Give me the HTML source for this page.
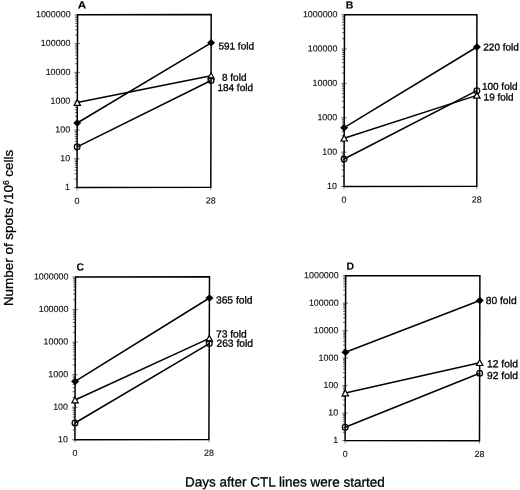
<!DOCTYPE html>
<html><head><meta charset="utf-8"><style>
html,body{margin:0;padding:0;background:#fff;}
svg{display:block;filter:grayscale(1);}
text{font-family:"Liberation Sans", sans-serif;fill:#000;stroke:#000;stroke-width:0.3px;}
text.t{stroke-width:0.12px;fill:#111;stroke:#111;}
text.L{stroke-width:0.1px;}
</style></head><body>
<svg width="520" height="490" viewBox="0 0 520 490">
<rect width="520" height="490" fill="#fff"/>
<line x1="74.63" y1="178.93" x2="77.03" y2="178.93" stroke="#555" stroke-width="0.9"/>
<line x1="74.65" y1="173.86" x2="77.05" y2="173.86" stroke="#555" stroke-width="0.9"/>
<line x1="74.66" y1="170.26" x2="77.06" y2="170.26" stroke="#555" stroke-width="0.9"/>
<line x1="74.67" y1="167.47" x2="77.07" y2="167.47" stroke="#555" stroke-width="0.9"/>
<line x1="74.68" y1="165.19" x2="77.08" y2="165.19" stroke="#555" stroke-width="0.9"/>
<line x1="74.68" y1="163.26" x2="77.08" y2="163.26" stroke="#555" stroke-width="0.9"/>
<line x1="74.69" y1="161.59" x2="77.09" y2="161.59" stroke="#555" stroke-width="0.9"/>
<line x1="74.70" y1="160.12" x2="77.10" y2="160.12" stroke="#555" stroke-width="0.9"/>
<line x1="74.73" y1="150.13" x2="77.13" y2="150.13" stroke="#555" stroke-width="0.9"/>
<line x1="74.75" y1="145.06" x2="77.15" y2="145.06" stroke="#555" stroke-width="0.9"/>
<line x1="74.76" y1="141.46" x2="77.16" y2="141.46" stroke="#555" stroke-width="0.9"/>
<line x1="74.77" y1="138.67" x2="77.17" y2="138.67" stroke="#555" stroke-width="0.9"/>
<line x1="74.78" y1="136.39" x2="77.18" y2="136.39" stroke="#555" stroke-width="0.9"/>
<line x1="74.78" y1="134.46" x2="77.18" y2="134.46" stroke="#555" stroke-width="0.9"/>
<line x1="74.79" y1="132.79" x2="77.19" y2="132.79" stroke="#555" stroke-width="0.9"/>
<line x1="74.80" y1="131.32" x2="77.20" y2="131.32" stroke="#555" stroke-width="0.9"/>
<line x1="74.83" y1="121.33" x2="77.23" y2="121.33" stroke="#555" stroke-width="0.9"/>
<line x1="74.85" y1="116.26" x2="77.25" y2="116.26" stroke="#555" stroke-width="0.9"/>
<line x1="74.86" y1="112.66" x2="77.26" y2="112.66" stroke="#555" stroke-width="0.9"/>
<line x1="74.87" y1="109.87" x2="77.27" y2="109.87" stroke="#555" stroke-width="0.9"/>
<line x1="74.88" y1="107.59" x2="77.28" y2="107.59" stroke="#555" stroke-width="0.9"/>
<line x1="74.88" y1="105.66" x2="77.28" y2="105.66" stroke="#555" stroke-width="0.9"/>
<line x1="74.89" y1="103.99" x2="77.29" y2="103.99" stroke="#555" stroke-width="0.9"/>
<line x1="74.90" y1="102.52" x2="77.30" y2="102.52" stroke="#555" stroke-width="0.9"/>
<line x1="74.93" y1="92.53" x2="77.33" y2="92.53" stroke="#555" stroke-width="0.9"/>
<line x1="74.95" y1="87.46" x2="77.35" y2="87.46" stroke="#555" stroke-width="0.9"/>
<line x1="74.96" y1="83.86" x2="77.36" y2="83.86" stroke="#555" stroke-width="0.9"/>
<line x1="74.97" y1="81.07" x2="77.37" y2="81.07" stroke="#555" stroke-width="0.9"/>
<line x1="74.98" y1="78.79" x2="77.38" y2="78.79" stroke="#555" stroke-width="0.9"/>
<line x1="74.98" y1="76.86" x2="77.38" y2="76.86" stroke="#555" stroke-width="0.9"/>
<line x1="74.99" y1="75.19" x2="77.39" y2="75.19" stroke="#555" stroke-width="0.9"/>
<line x1="75.00" y1="73.72" x2="77.40" y2="73.72" stroke="#555" stroke-width="0.9"/>
<line x1="75.03" y1="63.73" x2="77.43" y2="63.73" stroke="#555" stroke-width="0.9"/>
<line x1="75.05" y1="58.66" x2="77.45" y2="58.66" stroke="#555" stroke-width="0.9"/>
<line x1="75.06" y1="55.06" x2="77.46" y2="55.06" stroke="#555" stroke-width="0.9"/>
<line x1="75.07" y1="52.27" x2="77.47" y2="52.27" stroke="#555" stroke-width="0.9"/>
<line x1="75.08" y1="49.99" x2="77.48" y2="49.99" stroke="#555" stroke-width="0.9"/>
<line x1="75.08" y1="48.06" x2="77.48" y2="48.06" stroke="#555" stroke-width="0.9"/>
<line x1="75.09" y1="46.39" x2="77.49" y2="46.39" stroke="#555" stroke-width="0.9"/>
<line x1="75.10" y1="44.92" x2="77.50" y2="44.92" stroke="#555" stroke-width="0.9"/>
<line x1="75.13" y1="34.93" x2="77.53" y2="34.93" stroke="#555" stroke-width="0.9"/>
<line x1="75.15" y1="29.86" x2="77.55" y2="29.86" stroke="#555" stroke-width="0.9"/>
<line x1="75.16" y1="26.26" x2="77.56" y2="26.26" stroke="#555" stroke-width="0.9"/>
<line x1="75.17" y1="23.47" x2="77.57" y2="23.47" stroke="#555" stroke-width="0.9"/>
<line x1="75.18" y1="21.19" x2="77.58" y2="21.19" stroke="#555" stroke-width="0.9"/>
<line x1="75.18" y1="19.26" x2="77.58" y2="19.26" stroke="#555" stroke-width="0.9"/>
<line x1="75.19" y1="17.59" x2="77.59" y2="17.59" stroke="#555" stroke-width="0.9"/>
<line x1="75.20" y1="16.12" x2="77.60" y2="16.12" stroke="#555" stroke-width="0.9"/>
<line x1="74.00" y1="187.60" x2="79.50" y2="187.60" stroke="#666" stroke-width="0.9"/>
<text class="t" transform="translate(70.00,190.10) skewY(0.05)" font-size="8.9" text-anchor="end">1</text>
<line x1="74.10" y1="158.80" x2="79.60" y2="158.80" stroke="#666" stroke-width="0.9"/>
<text class="t" transform="translate(70.10,161.30) skewY(0.05)" font-size="8.9" text-anchor="end">10</text>
<line x1="74.20" y1="130.00" x2="79.70" y2="130.00" stroke="#666" stroke-width="0.9"/>
<text class="t" transform="translate(70.20,132.50) skewY(0.05)" font-size="8.9" text-anchor="end">100</text>
<line x1="74.30" y1="101.20" x2="79.80" y2="101.20" stroke="#666" stroke-width="0.9"/>
<text class="t" transform="translate(70.30,103.70) skewY(0.05)" font-size="8.9" text-anchor="end">1000</text>
<line x1="74.40" y1="72.40" x2="79.90" y2="72.40" stroke="#666" stroke-width="0.9"/>
<text class="t" transform="translate(70.40,74.90) skewY(0.05)" font-size="8.9" text-anchor="end">10000</text>
<line x1="74.50" y1="43.60" x2="80.00" y2="43.60" stroke="#666" stroke-width="0.9"/>
<text class="t" transform="translate(70.50,46.10) skewY(0.05)" font-size="8.9" text-anchor="end">100000</text>
<line x1="74.60" y1="14.80" x2="80.10" y2="14.80" stroke="#666" stroke-width="0.9"/>
<text class="t" transform="translate(70.60,17.30) skewY(0.05)" font-size="8.9" text-anchor="end">1000000</text>
<line x1="77.00" y1="187.60" x2="77.00" y2="190.60" stroke="#888" stroke-width="0.9"/>
<line x1="210.80" y1="187.30" x2="210.80" y2="190.30" stroke="#888" stroke-width="0.9"/>
<text class="t" transform="translate(77.00,203.90) skewY(0.05)" font-size="8.9" text-anchor="middle">0</text>
<text class="t" transform="translate(210.80,203.60) skewY(0.05)" font-size="8.9" text-anchor="middle">28</text>
<path d="M77.60 14.80 L211.20 14.40 L210.80 187.30 L77.00 187.60Z" fill="none" stroke="#000" stroke-width="1.5"/>
<text class="L" transform="translate(77.70,8.60) skewY(0.05) scale(1.12,1)" font-size="10.5" font-weight="bold">A</text>
<line x1="77.22" y1="123.00" x2="211.13" y2="42.80" stroke="#000" stroke-width="1.5"/>
<line x1="77.30" y1="102.60" x2="211.06" y2="75.80" stroke="#000" stroke-width="1.5"/>
<line x1="77.14" y1="146.80" x2="211.05" y2="80.50" stroke="#000" stroke-width="1.5"/>
<path d="M77.22 119.20 L81.22 123.00 L77.22 126.80 L73.22 123.00Z" fill="#000"/>
<path d="M211.13 39.00 L215.13 42.80 L211.13 46.60 L207.13 42.80Z" fill="#000"/>
<path d="M77.30 99.60 L80.50 105.40 L74.10 105.40Z" fill="#fff" stroke="#000" stroke-width="1.2" stroke-linejoin="miter"/>
<path d="M211.06 72.80 L214.26 78.60 L207.86 78.60Z" fill="#fff" stroke="#000" stroke-width="1.2" stroke-linejoin="miter"/>
<circle cx="77.14" cy="146.80" r="2.85" fill="none" stroke="#000" stroke-width="1.3"/>
<circle cx="211.05" cy="80.50" r="2.85" fill="none" stroke="#000" stroke-width="1.3"/>
<text transform="translate(218.40,49.50) skewY(0.05)" font-size="10">591 fold</text>
<text transform="translate(222.00,80.80) skewY(0.05)" font-size="10">8 fold</text>
<text transform="translate(217.40,90.90) skewY(0.05)" font-size="10">184 fold</text>
<line x1="341.63" y1="176.16" x2="344.03" y2="176.16" stroke="#555" stroke-width="0.9"/>
<line x1="341.65" y1="170.11" x2="344.05" y2="170.11" stroke="#555" stroke-width="0.9"/>
<line x1="341.66" y1="165.81" x2="344.06" y2="165.81" stroke="#555" stroke-width="0.9"/>
<line x1="341.67" y1="162.48" x2="344.07" y2="162.48" stroke="#555" stroke-width="0.9"/>
<line x1="341.68" y1="159.76" x2="344.08" y2="159.76" stroke="#555" stroke-width="0.9"/>
<line x1="341.68" y1="157.46" x2="344.08" y2="157.46" stroke="#555" stroke-width="0.9"/>
<line x1="341.69" y1="155.47" x2="344.09" y2="155.47" stroke="#555" stroke-width="0.9"/>
<line x1="341.70" y1="153.71" x2="344.10" y2="153.71" stroke="#555" stroke-width="0.9"/>
<line x1="341.73" y1="141.80" x2="344.13" y2="141.80" stroke="#555" stroke-width="0.9"/>
<line x1="341.75" y1="135.75" x2="344.15" y2="135.75" stroke="#555" stroke-width="0.9"/>
<line x1="341.76" y1="131.45" x2="344.16" y2="131.45" stroke="#555" stroke-width="0.9"/>
<line x1="341.77" y1="128.12" x2="344.17" y2="128.12" stroke="#555" stroke-width="0.9"/>
<line x1="341.78" y1="125.40" x2="344.18" y2="125.40" stroke="#555" stroke-width="0.9"/>
<line x1="341.78" y1="123.10" x2="344.18" y2="123.10" stroke="#555" stroke-width="0.9"/>
<line x1="341.79" y1="121.11" x2="344.19" y2="121.11" stroke="#555" stroke-width="0.9"/>
<line x1="341.80" y1="119.35" x2="344.20" y2="119.35" stroke="#555" stroke-width="0.9"/>
<line x1="341.83" y1="107.44" x2="344.23" y2="107.44" stroke="#555" stroke-width="0.9"/>
<line x1="341.85" y1="101.39" x2="344.25" y2="101.39" stroke="#555" stroke-width="0.9"/>
<line x1="341.86" y1="97.09" x2="344.26" y2="97.09" stroke="#555" stroke-width="0.9"/>
<line x1="341.87" y1="93.76" x2="344.27" y2="93.76" stroke="#555" stroke-width="0.9"/>
<line x1="341.88" y1="91.04" x2="344.28" y2="91.04" stroke="#555" stroke-width="0.9"/>
<line x1="341.88" y1="88.74" x2="344.28" y2="88.74" stroke="#555" stroke-width="0.9"/>
<line x1="341.89" y1="86.75" x2="344.29" y2="86.75" stroke="#555" stroke-width="0.9"/>
<line x1="341.90" y1="84.99" x2="344.30" y2="84.99" stroke="#555" stroke-width="0.9"/>
<line x1="341.93" y1="73.08" x2="344.33" y2="73.08" stroke="#555" stroke-width="0.9"/>
<line x1="341.95" y1="67.03" x2="344.35" y2="67.03" stroke="#555" stroke-width="0.9"/>
<line x1="341.96" y1="62.73" x2="344.36" y2="62.73" stroke="#555" stroke-width="0.9"/>
<line x1="341.97" y1="59.40" x2="344.37" y2="59.40" stroke="#555" stroke-width="0.9"/>
<line x1="341.98" y1="56.68" x2="344.38" y2="56.68" stroke="#555" stroke-width="0.9"/>
<line x1="341.98" y1="54.38" x2="344.38" y2="54.38" stroke="#555" stroke-width="0.9"/>
<line x1="341.99" y1="52.39" x2="344.39" y2="52.39" stroke="#555" stroke-width="0.9"/>
<line x1="342.00" y1="50.63" x2="344.40" y2="50.63" stroke="#555" stroke-width="0.9"/>
<line x1="342.03" y1="38.72" x2="344.43" y2="38.72" stroke="#555" stroke-width="0.9"/>
<line x1="342.05" y1="32.67" x2="344.45" y2="32.67" stroke="#555" stroke-width="0.9"/>
<line x1="342.06" y1="28.37" x2="344.46" y2="28.37" stroke="#555" stroke-width="0.9"/>
<line x1="342.07" y1="25.04" x2="344.47" y2="25.04" stroke="#555" stroke-width="0.9"/>
<line x1="342.08" y1="22.32" x2="344.48" y2="22.32" stroke="#555" stroke-width="0.9"/>
<line x1="342.08" y1="20.02" x2="344.48" y2="20.02" stroke="#555" stroke-width="0.9"/>
<line x1="342.09" y1="18.03" x2="344.49" y2="18.03" stroke="#555" stroke-width="0.9"/>
<line x1="342.10" y1="16.27" x2="344.50" y2="16.27" stroke="#555" stroke-width="0.9"/>
<line x1="341.00" y1="186.50" x2="346.50" y2="186.50" stroke="#666" stroke-width="0.9"/>
<text class="t" transform="translate(337.00,189.00) skewY(0.05)" font-size="8.9" text-anchor="end">10</text>
<line x1="341.10" y1="152.14" x2="346.60" y2="152.14" stroke="#666" stroke-width="0.9"/>
<text class="t" transform="translate(337.10,154.64) skewY(0.05)" font-size="8.9" text-anchor="end">100</text>
<line x1="341.20" y1="117.78" x2="346.70" y2="117.78" stroke="#666" stroke-width="0.9"/>
<text class="t" transform="translate(337.20,120.28) skewY(0.05)" font-size="8.9" text-anchor="end">1000</text>
<line x1="341.30" y1="83.42" x2="346.80" y2="83.42" stroke="#666" stroke-width="0.9"/>
<text class="t" transform="translate(337.30,85.92) skewY(0.05)" font-size="8.9" text-anchor="end">10000</text>
<line x1="341.40" y1="49.06" x2="346.90" y2="49.06" stroke="#666" stroke-width="0.9"/>
<text class="t" transform="translate(337.40,51.56) skewY(0.05)" font-size="8.9" text-anchor="end">100000</text>
<line x1="341.50" y1="14.70" x2="347.00" y2="14.70" stroke="#666" stroke-width="0.9"/>
<text class="t" transform="translate(337.50,17.20) skewY(0.05)" font-size="8.9" text-anchor="end">1000000</text>
<line x1="344.00" y1="186.50" x2="344.00" y2="189.50" stroke="#888" stroke-width="0.9"/>
<line x1="476.80" y1="186.30" x2="476.80" y2="189.30" stroke="#888" stroke-width="0.9"/>
<text class="t" transform="translate(344.00,202.80) skewY(0.05)" font-size="8.9" text-anchor="middle">0</text>
<text class="t" transform="translate(476.80,202.60) skewY(0.05)" font-size="8.9" text-anchor="middle">28</text>
<path d="M344.50 14.70 L476.90 14.70 L476.80 186.30 L344.00 186.50Z" fill="none" stroke="#000" stroke-width="1.5"/>
<text class="L" transform="translate(345.70,8.50) skewY(0.05)" font-size="10.5" font-weight="bold">B</text>
<line x1="344.17" y1="127.70" x2="476.88" y2="47.00" stroke="#000" stroke-width="1.5"/>
<line x1="344.14" y1="138.20" x2="476.85" y2="95.40" stroke="#000" stroke-width="1.5"/>
<line x1="344.08" y1="159.00" x2="476.86" y2="90.70" stroke="#000" stroke-width="1.5"/>
<path d="M344.17 123.90 L348.17 127.70 L344.17 131.50 L340.17 127.70Z" fill="#000"/>
<path d="M476.88 43.20 L480.88 47.00 L476.88 50.80 L472.88 47.00Z" fill="#000"/>
<path d="M344.14 135.20 L347.34 141.00 L340.94 141.00Z" fill="#fff" stroke="#000" stroke-width="1.2" stroke-linejoin="miter"/>
<path d="M476.85 92.40 L480.05 98.20 L473.65 98.20Z" fill="#fff" stroke="#000" stroke-width="1.2" stroke-linejoin="miter"/>
<circle cx="344.08" cy="159.00" r="2.85" fill="none" stroke="#000" stroke-width="1.3"/>
<circle cx="476.86" cy="90.70" r="2.85" fill="none" stroke="#000" stroke-width="1.3"/>
<text transform="translate(483.30,50.50) skewY(0.05)" font-size="10">220 fold</text>
<text transform="translate(481.90,89.80) skewY(0.05)" font-size="10">100 fold</text>
<text transform="translate(483.60,100.50) skewY(0.05)" font-size="10">19 fold</text>
<line x1="72.54" y1="430.00" x2="74.94" y2="430.00" stroke="#555" stroke-width="0.9"/>
<line x1="72.56" y1="424.26" x2="74.96" y2="424.26" stroke="#555" stroke-width="0.9"/>
<line x1="72.57" y1="420.20" x2="74.97" y2="420.20" stroke="#555" stroke-width="0.9"/>
<line x1="72.58" y1="417.04" x2="74.98" y2="417.04" stroke="#555" stroke-width="0.9"/>
<line x1="72.59" y1="414.46" x2="74.99" y2="414.46" stroke="#555" stroke-width="0.9"/>
<line x1="72.60" y1="412.28" x2="75.00" y2="412.28" stroke="#555" stroke-width="0.9"/>
<line x1="72.61" y1="410.40" x2="75.01" y2="410.40" stroke="#555" stroke-width="0.9"/>
<line x1="72.61" y1="408.73" x2="75.01" y2="408.73" stroke="#555" stroke-width="0.9"/>
<line x1="72.66" y1="397.44" x2="75.06" y2="397.44" stroke="#555" stroke-width="0.9"/>
<line x1="72.68" y1="391.70" x2="75.08" y2="391.70" stroke="#555" stroke-width="0.9"/>
<line x1="72.69" y1="387.64" x2="75.09" y2="387.64" stroke="#555" stroke-width="0.9"/>
<line x1="72.70" y1="384.48" x2="75.10" y2="384.48" stroke="#555" stroke-width="0.9"/>
<line x1="72.71" y1="381.90" x2="75.11" y2="381.90" stroke="#555" stroke-width="0.9"/>
<line x1="72.72" y1="379.72" x2="75.12" y2="379.72" stroke="#555" stroke-width="0.9"/>
<line x1="72.73" y1="377.84" x2="75.13" y2="377.84" stroke="#555" stroke-width="0.9"/>
<line x1="72.73" y1="376.17" x2="75.13" y2="376.17" stroke="#555" stroke-width="0.9"/>
<line x1="72.78" y1="364.88" x2="75.18" y2="364.88" stroke="#555" stroke-width="0.9"/>
<line x1="72.80" y1="359.14" x2="75.20" y2="359.14" stroke="#555" stroke-width="0.9"/>
<line x1="72.81" y1="355.08" x2="75.21" y2="355.08" stroke="#555" stroke-width="0.9"/>
<line x1="72.82" y1="351.92" x2="75.22" y2="351.92" stroke="#555" stroke-width="0.9"/>
<line x1="72.83" y1="349.34" x2="75.23" y2="349.34" stroke="#555" stroke-width="0.9"/>
<line x1="72.84" y1="347.16" x2="75.24" y2="347.16" stroke="#555" stroke-width="0.9"/>
<line x1="72.85" y1="345.28" x2="75.25" y2="345.28" stroke="#555" stroke-width="0.9"/>
<line x1="72.85" y1="343.61" x2="75.25" y2="343.61" stroke="#555" stroke-width="0.9"/>
<line x1="72.90" y1="332.32" x2="75.30" y2="332.32" stroke="#555" stroke-width="0.9"/>
<line x1="72.92" y1="326.58" x2="75.32" y2="326.58" stroke="#555" stroke-width="0.9"/>
<line x1="72.93" y1="322.52" x2="75.33" y2="322.52" stroke="#555" stroke-width="0.9"/>
<line x1="72.94" y1="319.36" x2="75.34" y2="319.36" stroke="#555" stroke-width="0.9"/>
<line x1="72.95" y1="316.78" x2="75.35" y2="316.78" stroke="#555" stroke-width="0.9"/>
<line x1="72.96" y1="314.60" x2="75.36" y2="314.60" stroke="#555" stroke-width="0.9"/>
<line x1="72.97" y1="312.72" x2="75.37" y2="312.72" stroke="#555" stroke-width="0.9"/>
<line x1="72.97" y1="311.05" x2="75.37" y2="311.05" stroke="#555" stroke-width="0.9"/>
<line x1="73.02" y1="299.76" x2="75.42" y2="299.76" stroke="#555" stroke-width="0.9"/>
<line x1="73.04" y1="294.02" x2="75.44" y2="294.02" stroke="#555" stroke-width="0.9"/>
<line x1="73.05" y1="289.96" x2="75.45" y2="289.96" stroke="#555" stroke-width="0.9"/>
<line x1="73.06" y1="286.80" x2="75.46" y2="286.80" stroke="#555" stroke-width="0.9"/>
<line x1="73.07" y1="284.22" x2="75.47" y2="284.22" stroke="#555" stroke-width="0.9"/>
<line x1="73.08" y1="282.04" x2="75.48" y2="282.04" stroke="#555" stroke-width="0.9"/>
<line x1="73.09" y1="280.16" x2="75.49" y2="280.16" stroke="#555" stroke-width="0.9"/>
<line x1="73.09" y1="278.49" x2="75.49" y2="278.49" stroke="#555" stroke-width="0.9"/>
<line x1="71.90" y1="439.80" x2="77.40" y2="439.80" stroke="#666" stroke-width="0.9"/>
<text class="t" transform="translate(67.90,442.30) skewY(0.05)" font-size="8.9" text-anchor="end">10</text>
<line x1="72.02" y1="407.24" x2="77.52" y2="407.24" stroke="#666" stroke-width="0.9"/>
<text class="t" transform="translate(68.02,409.74) skewY(0.05)" font-size="8.9" text-anchor="end">100</text>
<line x1="72.14" y1="374.68" x2="77.64" y2="374.68" stroke="#666" stroke-width="0.9"/>
<text class="t" transform="translate(68.14,377.18) skewY(0.05)" font-size="8.9" text-anchor="end">1000</text>
<line x1="72.26" y1="342.12" x2="77.76" y2="342.12" stroke="#666" stroke-width="0.9"/>
<text class="t" transform="translate(68.26,344.62) skewY(0.05)" font-size="8.9" text-anchor="end">10000</text>
<line x1="72.38" y1="309.56" x2="77.88" y2="309.56" stroke="#666" stroke-width="0.9"/>
<text class="t" transform="translate(68.38,312.06) skewY(0.05)" font-size="8.9" text-anchor="end">100000</text>
<line x1="72.50" y1="277.00" x2="78.00" y2="277.00" stroke="#666" stroke-width="0.9"/>
<text class="t" transform="translate(68.50,279.50) skewY(0.05)" font-size="8.9" text-anchor="end">1000000</text>
<line x1="74.90" y1="439.80" x2="74.90" y2="442.80" stroke="#888" stroke-width="0.9"/>
<line x1="208.90" y1="439.50" x2="208.90" y2="442.50" stroke="#888" stroke-width="0.9"/>
<text class="t" transform="translate(74.90,456.10) skewY(0.05)" font-size="8.9" text-anchor="middle">0</text>
<text class="t" transform="translate(208.90,455.80) skewY(0.05)" font-size="8.9" text-anchor="middle">28</text>
<path d="M75.50 277.00 L209.50 276.80 L208.90 439.50 L74.90 439.80Z" fill="none" stroke="#000" stroke-width="1.5"/>
<text class="L" transform="translate(76.40,270.60) skewY(0.05)" font-size="10.5" font-weight="bold">C</text>
<line x1="75.12" y1="381.40" x2="209.42" y2="298.00" stroke="#000" stroke-width="1.5"/>
<line x1="75.05" y1="400.00" x2="209.27" y2="338.40" stroke="#000" stroke-width="1.5"/>
<line x1="74.96" y1="423.00" x2="209.25" y2="343.60" stroke="#000" stroke-width="1.5"/>
<path d="M75.12 377.60 L79.12 381.40 L75.12 385.20 L71.12 381.40Z" fill="#000"/>
<path d="M209.42 294.20 L213.42 298.00 L209.42 301.80 L205.42 298.00Z" fill="#000"/>
<path d="M75.05 397.00 L78.25 402.80 L71.85 402.80Z" fill="#fff" stroke="#000" stroke-width="1.2" stroke-linejoin="miter"/>
<path d="M209.27 335.40 L212.47 341.20 L206.07 341.20Z" fill="#fff" stroke="#000" stroke-width="1.2" stroke-linejoin="miter"/>
<circle cx="74.96" cy="423.00" r="2.85" fill="none" stroke="#000" stroke-width="1.3"/>
<circle cx="209.25" cy="343.60" r="2.85" fill="none" stroke="#000" stroke-width="1.3"/>
<text transform="translate(215.90,303.40) skewY(0.05)" font-size="10.3">365 fold</text>
<text transform="translate(215.90,337.40) skewY(0.05)" font-size="10.3">73 fold</text>
<text transform="translate(216.40,346.70) skewY(0.05)" font-size="10.3">263 fold</text>
<line x1="342.73" y1="432.33" x2="345.13" y2="432.33" stroke="#555" stroke-width="0.9"/>
<line x1="342.75" y1="427.49" x2="345.15" y2="427.49" stroke="#555" stroke-width="0.9"/>
<line x1="342.76" y1="424.05" x2="345.16" y2="424.05" stroke="#555" stroke-width="0.9"/>
<line x1="342.77" y1="421.39" x2="345.17" y2="421.39" stroke="#555" stroke-width="0.9"/>
<line x1="342.78" y1="419.21" x2="345.18" y2="419.21" stroke="#555" stroke-width="0.9"/>
<line x1="342.78" y1="417.37" x2="345.18" y2="417.37" stroke="#555" stroke-width="0.9"/>
<line x1="342.79" y1="415.78" x2="345.19" y2="415.78" stroke="#555" stroke-width="0.9"/>
<line x1="342.80" y1="414.37" x2="345.20" y2="414.37" stroke="#555" stroke-width="0.9"/>
<line x1="342.83" y1="404.84" x2="345.23" y2="404.84" stroke="#555" stroke-width="0.9"/>
<line x1="342.85" y1="400.00" x2="345.25" y2="400.00" stroke="#555" stroke-width="0.9"/>
<line x1="342.86" y1="396.57" x2="345.26" y2="396.57" stroke="#555" stroke-width="0.9"/>
<line x1="342.87" y1="393.91" x2="345.27" y2="393.91" stroke="#555" stroke-width="0.9"/>
<line x1="342.88" y1="391.73" x2="345.28" y2="391.73" stroke="#555" stroke-width="0.9"/>
<line x1="342.88" y1="389.89" x2="345.28" y2="389.89" stroke="#555" stroke-width="0.9"/>
<line x1="342.89" y1="388.30" x2="345.29" y2="388.30" stroke="#555" stroke-width="0.9"/>
<line x1="342.90" y1="386.89" x2="345.30" y2="386.89" stroke="#555" stroke-width="0.9"/>
<line x1="342.93" y1="377.36" x2="345.33" y2="377.36" stroke="#555" stroke-width="0.9"/>
<line x1="342.95" y1="372.52" x2="345.35" y2="372.52" stroke="#555" stroke-width="0.9"/>
<line x1="342.96" y1="369.09" x2="345.36" y2="369.09" stroke="#555" stroke-width="0.9"/>
<line x1="342.97" y1="366.42" x2="345.37" y2="366.42" stroke="#555" stroke-width="0.9"/>
<line x1="342.98" y1="364.25" x2="345.38" y2="364.25" stroke="#555" stroke-width="0.9"/>
<line x1="342.98" y1="362.41" x2="345.38" y2="362.41" stroke="#555" stroke-width="0.9"/>
<line x1="342.99" y1="360.81" x2="345.39" y2="360.81" stroke="#555" stroke-width="0.9"/>
<line x1="343.00" y1="359.41" x2="345.40" y2="359.41" stroke="#555" stroke-width="0.9"/>
<line x1="343.03" y1="349.88" x2="345.43" y2="349.88" stroke="#555" stroke-width="0.9"/>
<line x1="343.05" y1="345.04" x2="345.45" y2="345.04" stroke="#555" stroke-width="0.9"/>
<line x1="343.06" y1="341.60" x2="345.46" y2="341.60" stroke="#555" stroke-width="0.9"/>
<line x1="343.07" y1="338.94" x2="345.47" y2="338.94" stroke="#555" stroke-width="0.9"/>
<line x1="343.08" y1="336.76" x2="345.48" y2="336.76" stroke="#555" stroke-width="0.9"/>
<line x1="343.08" y1="334.92" x2="345.48" y2="334.92" stroke="#555" stroke-width="0.9"/>
<line x1="343.09" y1="333.33" x2="345.49" y2="333.33" stroke="#555" stroke-width="0.9"/>
<line x1="343.10" y1="331.92" x2="345.50" y2="331.92" stroke="#555" stroke-width="0.9"/>
<line x1="343.13" y1="322.39" x2="345.53" y2="322.39" stroke="#555" stroke-width="0.9"/>
<line x1="343.15" y1="317.55" x2="345.55" y2="317.55" stroke="#555" stroke-width="0.9"/>
<line x1="343.16" y1="314.12" x2="345.56" y2="314.12" stroke="#555" stroke-width="0.9"/>
<line x1="343.17" y1="311.46" x2="345.57" y2="311.46" stroke="#555" stroke-width="0.9"/>
<line x1="343.18" y1="309.28" x2="345.58" y2="309.28" stroke="#555" stroke-width="0.9"/>
<line x1="343.18" y1="307.44" x2="345.58" y2="307.44" stroke="#555" stroke-width="0.9"/>
<line x1="343.19" y1="305.85" x2="345.59" y2="305.85" stroke="#555" stroke-width="0.9"/>
<line x1="343.20" y1="304.44" x2="345.60" y2="304.44" stroke="#555" stroke-width="0.9"/>
<line x1="343.23" y1="294.91" x2="345.63" y2="294.91" stroke="#555" stroke-width="0.9"/>
<line x1="343.25" y1="290.07" x2="345.65" y2="290.07" stroke="#555" stroke-width="0.9"/>
<line x1="343.26" y1="286.64" x2="345.66" y2="286.64" stroke="#555" stroke-width="0.9"/>
<line x1="343.27" y1="283.97" x2="345.67" y2="283.97" stroke="#555" stroke-width="0.9"/>
<line x1="343.28" y1="281.80" x2="345.68" y2="281.80" stroke="#555" stroke-width="0.9"/>
<line x1="343.28" y1="279.96" x2="345.68" y2="279.96" stroke="#555" stroke-width="0.9"/>
<line x1="343.29" y1="278.36" x2="345.69" y2="278.36" stroke="#555" stroke-width="0.9"/>
<line x1="343.30" y1="276.96" x2="345.70" y2="276.96" stroke="#555" stroke-width="0.9"/>
<line x1="342.10" y1="440.60" x2="347.60" y2="440.60" stroke="#666" stroke-width="0.9"/>
<text class="t" transform="translate(338.10,443.10) skewY(0.05)" font-size="8.9" text-anchor="end">1</text>
<line x1="342.20" y1="413.12" x2="347.70" y2="413.12" stroke="#666" stroke-width="0.9"/>
<text class="t" transform="translate(338.20,415.62) skewY(0.05)" font-size="8.9" text-anchor="end">10</text>
<line x1="342.30" y1="385.63" x2="347.80" y2="385.63" stroke="#666" stroke-width="0.9"/>
<text class="t" transform="translate(338.30,388.13) skewY(0.05)" font-size="8.9" text-anchor="end">100</text>
<line x1="342.40" y1="358.15" x2="347.90" y2="358.15" stroke="#666" stroke-width="0.9"/>
<text class="t" transform="translate(338.40,360.65) skewY(0.05)" font-size="8.9" text-anchor="end">1000</text>
<line x1="342.50" y1="330.67" x2="348.00" y2="330.67" stroke="#666" stroke-width="0.9"/>
<text class="t" transform="translate(338.50,333.17) skewY(0.05)" font-size="8.9" text-anchor="end">10000</text>
<line x1="342.60" y1="303.18" x2="348.10" y2="303.18" stroke="#666" stroke-width="0.9"/>
<text class="t" transform="translate(338.60,305.68) skewY(0.05)" font-size="8.9" text-anchor="end">100000</text>
<line x1="342.70" y1="275.70" x2="348.20" y2="275.70" stroke="#666" stroke-width="0.9"/>
<text class="t" transform="translate(338.70,278.20) skewY(0.05)" font-size="8.9" text-anchor="end">1000000</text>
<line x1="345.10" y1="440.60" x2="345.10" y2="443.60" stroke="#888" stroke-width="0.9"/>
<line x1="479.50" y1="440.80" x2="479.50" y2="443.80" stroke="#888" stroke-width="0.9"/>
<text class="t" transform="translate(345.10,456.90) skewY(0.05)" font-size="8.9" text-anchor="middle">0</text>
<text class="t" transform="translate(479.50,457.10) skewY(0.05)" font-size="8.9" text-anchor="middle">28</text>
<path d="M345.70 275.70 L479.90 275.70 L479.50 440.80 L345.10 440.60Z" fill="none" stroke="#000" stroke-width="1.5"/>
<text class="L" transform="translate(346.40,269.70) skewY(0.05)" font-size="10.5" font-weight="bold">D</text>
<line x1="345.42" y1="352.30" x2="479.84" y2="300.50" stroke="#000" stroke-width="1.5"/>
<line x1="345.27" y1="393.00" x2="479.69" y2="362.70" stroke="#000" stroke-width="1.5"/>
<line x1="345.15" y1="427.20" x2="479.66" y2="373.30" stroke="#000" stroke-width="1.5"/>
<path d="M345.42 348.50 L349.42 352.30 L345.42 356.10 L341.42 352.30Z" fill="#000"/>
<path d="M479.84 296.70 L483.84 300.50 L479.84 304.30 L475.84 300.50Z" fill="#000"/>
<path d="M345.27 390.00 L348.47 395.80 L342.07 395.80Z" fill="#fff" stroke="#000" stroke-width="1.2" stroke-linejoin="miter"/>
<path d="M479.69 359.70 L482.89 365.50 L476.49 365.50Z" fill="#fff" stroke="#000" stroke-width="1.2" stroke-linejoin="miter"/>
<circle cx="345.15" cy="427.20" r="2.85" fill="none" stroke="#000" stroke-width="1.3"/>
<circle cx="479.66" cy="373.30" r="2.85" fill="none" stroke="#000" stroke-width="1.3"/>
<text transform="translate(485.70,304.10) skewY(0.05)" font-size="10.3">80 fold</text>
<text transform="translate(487.00,367.30) skewY(0.05)" font-size="10.3">12 fold</text>
<text transform="translate(487.00,379.10) skewY(0.05)" font-size="10.3">92 fold</text>
<text transform="translate(13.3,306.1) rotate(-90)" font-size="13.45">Number of spots /10<tspan dy="-4.5" font-size="8.5">6</tspan><tspan dy="4.5"> cells</tspan></text>
<text transform="translate(185.00,486.50) skewY(0.05)" font-size="13.5">Days after CTL lines were started</text>
</svg>
</body></html>
